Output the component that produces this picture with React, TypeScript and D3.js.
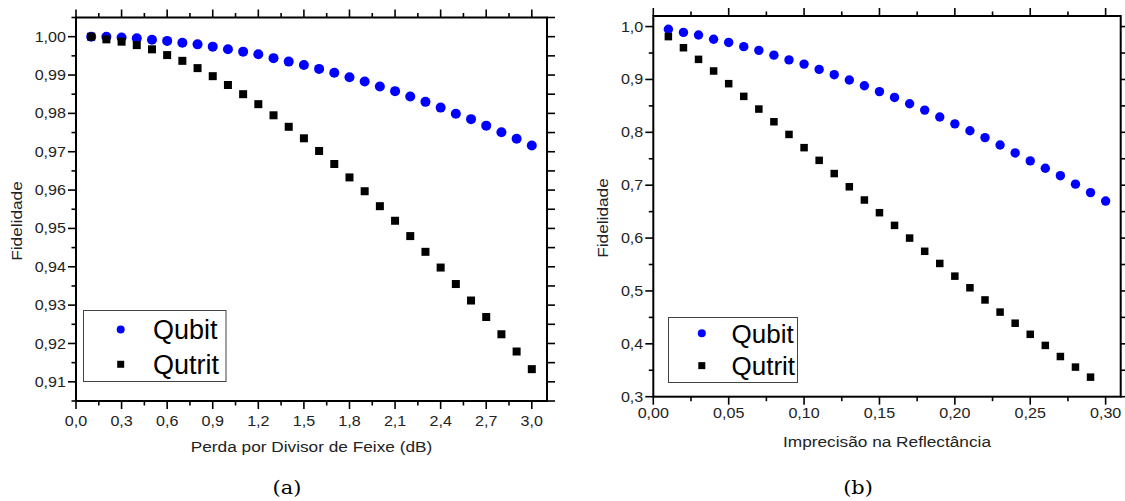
import React from 'react';
import * as d3 from 'd3';

// painel (a): perda por divisor de feixe
const lossDb = [0.1, 0.2, 0.3, 0.4, 0.5, 0.6, 0.7, 0.8, 0.9, 1.0, 1.1, 1.2, 1.3, 1.4, 1.5,
  1.6, 1.7, 1.8, 1.9, 2.0, 2.1, 2.2, 2.3, 2.4, 2.5, 2.6, 2.7, 2.8, 2.9, 3.0];
const lossQubit = [1.0, 1.0, 0.9998, 0.9996, 0.9992, 0.9989, 0.9984, 0.998, 0.9974, 0.9967,
  0.9961, 0.9954, 0.9944, 0.9935, 0.9926, 0.9916, 0.9906, 0.9894, 0.9883, 0.987,
  0.9858, 0.9844, 0.983, 0.9815, 0.9799, 0.9785, 0.9768, 0.9751, 0.9734, 0.9716];
const lossQutrit = [1.0, 0.9993, 0.9987, 0.9978, 0.9967, 0.9952, 0.9937, 0.9918, 0.9897, 0.9874,
  0.985, 0.9824, 0.9795, 0.9765, 0.9735, 0.9702, 0.9668, 0.9633, 0.9597, 0.9558,
  0.952, 0.948, 0.9439, 0.9398, 0.9355, 0.9312, 0.9269, 0.9224, 0.9179, 0.9133];
const lossXTicks = [0, 0.3, 0.6, 0.9, 1.2, 1.5, 1.8, 2.1, 2.4, 2.7, 3.0];
const lossYTicks = [0.91, 0.92, 0.93, 0.94, 0.95, 0.96, 0.97, 0.98, 0.99, 1.0];

// painel (b): imprecisao na reflectancia
const reflect = [0.01, 0.02, 0.03, 0.04, 0.05, 0.06, 0.07, 0.08, 0.09, 0.1, 0.11, 0.12, 0.13, 0.14, 0.15,
  0.16, 0.17, 0.18, 0.19, 0.2, 0.21, 0.22, 0.23, 0.24, 0.25, 0.26, 0.27, 0.28, 0.29, 0.3];
const reflQubit = [0.995, 0.989, 0.984, 0.976, 0.97, 0.962, 0.955, 0.946, 0.937, 0.929,
  0.919, 0.909, 0.899, 0.888, 0.877, 0.866, 0.854, 0.842, 0.829, 0.816,
  0.803, 0.79, 0.776, 0.761, 0.746, 0.732, 0.718, 0.702, 0.686, 0.67];
const reflQutrit = [0.981, 0.96, 0.938, 0.916, 0.892, 0.868, 0.844, 0.82, 0.796, 0.771,
  0.747, 0.722, 0.697, 0.672, 0.648, 0.624, 0.6, 0.575, 0.552, 0.528,
  0.506, 0.483, 0.46, 0.439, 0.418, 0.397, 0.376, 0.356, 0.337];
const reflXTicks = [0, 0.05, 0.1, 0.15, 0.2, 0.25, 0.3];
const reflYTicks = [0.3, 0.4, 0.5, 0.6, 0.7, 0.8, 0.9, 1.0];

const seriesNames = ['Qubit', 'Qutrit'];

const locale = d3.formatLocale({ decimal: ',', thousands: '.', grouping: [3], currency: ['', ''] });
const SANS = '"Liberation Sans", Arial, sans-serif';
const SX = 1.15; // a fonte do original e mais larga que a Arial

const midpoints = (t: number[], domain: number[]) => {
  const step = t[1] - t[0];
  const out: number[] = [];
  for (let v = t[0] - step / 2; v <= domain[1] + 1e-9; v += step) {
    if (v >= domain[0] - 1e-9) out.push(v);
  }
  return out;
};

type PanelProps = {
  xs: number[]; qubit: number[]; qutrit: number[];
  box: { l: number; r: number; t: number; b: number };
  xDomain: number[]; yDomain: number[];
  xTicks: number[]; yTicks: number[];
  xFmt: string; yFmt: string;
  xTitle: string; caption: string; captionX: number;
  xLabelDy: number; xTitleY: number; yTitleX: number; yTitleY: number;
  dotR: number; sq: number;
  legend: { x: number; y: number; w: number; h: number; fs: number; mx: number; tx: number; b1: number; b2: number; r: number; s: number };
};

const Panel = (p: PanelProps) => {
  const { box } = p;
  const x = d3.scaleLinear().domain(p.xDomain).range([box.l, box.r]);
  const y = d3.scaleLinear().domain(p.yDomain).range([box.b, box.t]);
  const fx = locale.format(p.xFmt);
  const fy = locale.format(p.yFmt);
  const xMinor = midpoints(p.xTicks, p.xDomain);
  const yMinor = midpoints(p.yTicks, p.yDomain);
  const MAJ = 8, MIN = 4.5;
  const lg = p.legend;
  return (
    <g>
      {/* ticks */}
      <g stroke="#000" strokeWidth={1.6}>
        {p.xTicks.map(v => (
          <g key={'xm' + v}>
            <line x1={x(v)} x2={x(v)} y1={box.b} y2={box.b + MAJ} />
            <line x1={x(v)} x2={x(v)} y1={box.t} y2={box.t - MAJ} />
          </g>
        ))}
        {xMinor.map(v => (
          <g key={'xn' + v}>
            <line x1={x(v)} x2={x(v)} y1={box.b} y2={box.b + MIN} />
            <line x1={x(v)} x2={x(v)} y1={box.t} y2={box.t - MIN} />
          </g>
        ))}
        {p.yTicks.map(v => (
          <g key={'ym' + v}>
            <line x1={box.l} x2={box.l - MAJ} y1={y(v)} y2={y(v)} />
            <line x1={box.r} x2={box.r + MAJ} y1={y(v)} y2={y(v)} />
          </g>
        ))}
        {yMinor.map(v => (
          <g key={'yn' + v}>
            <line x1={box.l} x2={box.l - MIN} y1={y(v)} y2={y(v)} />
            <line x1={box.r} x2={box.r + MAJ} y1={y(v)} y2={y(v)} />
          </g>
        ))}
      </g>
      <rect x={box.l} y={box.t} width={box.r - box.l} height={box.b - box.t} fill="none" stroke="#000" strokeWidth={2} />

      {/* tick labels */}
      <g fontFamily={SANS} fontSize={14} fill="#222">
        {p.xTicks.map(v => (
          <text key={'xl' + v} textAnchor="middle" transform={`translate(${x(v)},${box.b + p.xLabelDy}) scale(${SX},1)`}>{fx(v)}</text>
        ))}
        {p.yTicks.map(v => (
          <text key={'yl' + v} textAnchor="end" dy="0.36em" transform={`translate(${box.l - 10},${y(v)}) scale(${SX},1)`}>{fy(v)}</text>
        ))}
      </g>

      {/* axis titles */}
      <text fontFamily={SANS} fontSize={15} fill="#222" textAnchor="middle"
        transform={`translate(${(box.l + box.r) / 2},${p.xTitleY}) scale(${SX},1)`}>{p.xTitle}</text>
      <text fontFamily={SANS} fontSize={15} fill="#222" textAnchor="middle"
        transform={`translate(${p.yTitleX},${p.yTitleY}) rotate(-90) scale(${SX},1)`}>Fidelidade</text>

      {/* points */}
      {p.xs.map((v, i) => (
        <circle key={'c' + i} cx={x(v)} cy={y(p.qubit[i])} r={p.dotR} fill="#0000ff" />
      ))}
      {p.qutrit.map((v, i) => (
        <rect key={'s' + i} x={x(p.xs[i]) - p.sq / 2} y={y(v) - p.sq / 2} width={p.sq} height={p.sq} fill="#000" />
      ))}

      {/* legend */}
      <rect x={lg.x} y={lg.y} width={lg.w} height={lg.h} fill="#fff" stroke="#444" strokeWidth={1} />
      <circle cx={lg.mx} cy={lg.b1 - lg.fs * 0.36} r={lg.r} fill="#0000ff" />
      <rect x={lg.mx - lg.s / 2} y={lg.b2 - lg.fs * 0.36 - lg.s / 2} width={lg.s} height={lg.s} fill="#000" />
      <g fontFamily={SANS} fontSize={lg.fs} fill="#000">
        <text x={lg.tx} y={lg.b1}>{seriesNames[0]}</text>
        <text x={lg.tx} y={lg.b2}>{seriesNames[1]}</text>
      </g>

      <text textAnchor="middle" fontFamily='"DejaVu Serif", serif' fontSize={19} fill="#000"
        transform={`translate(${p.captionX},494) scale(1.1,1)`}>{p.caption}</text>
    </g>
  );
};

const App = () => (
  <svg width={1125} height={501} style={{ position: 'absolute', left: 0, top: 0, background: '#fff' }}>
    <Panel
      xs={lossDb} qubit={lossQubit} qutrit={lossQutrit}
      box={{ l: 76, r: 547, t: 17.5, b: 401 }}
      xDomain={[0, 3.1]} yDomain={[0.905, 1.005]}
      xTicks={lossXTicks} yTicks={lossYTicks} xFmt=".1f" yFmt=".2f"
      xTitle="Perda por Divisor de Feixe (dB)" caption="(a)" captionX={287}
      xLabelDy={24.5} xTitleY={452} yTitleX={21.5} yTitleY={221}
      dotR={5} sq={8}
      legend={{ x: 83.5, y: 310.5, w: 142.5, h: 71, fs: 27, mx: 120.7, tx: 153, b1: 339.3, b2: 374, r: 4, s: 7 }}
    />
    <Panel
      xs={reflect} qubit={reflQubit} qutrit={reflQutrit}
      box={{ l: 653.3, r: 1120.7, t: 16, b: 396.7 }}
      xDomain={[0, 0.31]} yDomain={[0.3, 1.02]}
      xTicks={reflXTicks} yTicks={reflYTicks} xFmt=".2f" yFmt=".1f"
      xTitle="Imprecisão na Reflectância" caption="(b)" captionX={858}
      xLabelDy={21.6} xTitleY={447.3} yTitleX={608.3} yTitleY={218}
      dotR={4.7} sq={7.5}
      legend={{ x: 668.5, y: 317.5, w: 129, h: 65, fs: 26, mx: 701.8, tx: 731.5, b1: 342.7, b2: 375, r: 4, s: 7 }}
    />
  </svg>
);

export default App;
